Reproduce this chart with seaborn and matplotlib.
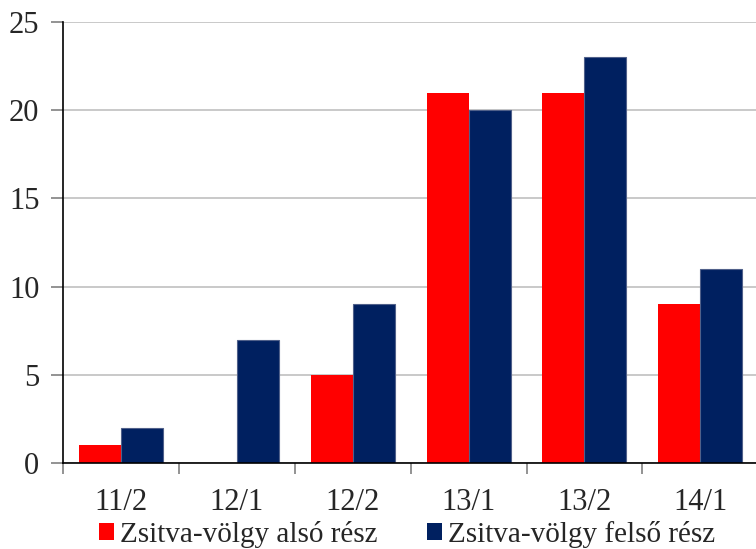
import matplotlib
matplotlib.use("Agg")
import matplotlib.pyplot as plt
import seaborn as sns
import pandas as pd
from matplotlib.patches import Patch

categories = ["11/2", "12/1", "12/2", "13/1", "13/2", "14/1"]
series_names = ["Zsitva-völgy alsó rész", "Zsitva-völgy felső rész"]
also = [1, 0, 5, 21, 21, 9]
felso = [2, 7, 9, 20, 23, 11]
colors = ["#FF0000", "#002060"]

df = pd.DataFrame({
    "cat": categories * 2,
    "val": also + felso,
    "series": [series_names[0]] * len(categories) + [series_names[1]] * len(categories),
})

sns.set_theme(style="white")
plt.rcParams["font.family"] = ["Liberation Serif", "DejaVu Serif"]

fig = plt.figure(figsize=(7.56, 5.49), dpi=100)
ax = fig.add_axes([63 / 756, 1 - 463 / 549, 1 - 63 / 756 + 0.003, (463 - 22) / 549])

sns.barplot(data=df, x="cat", y="val", hue="series", palette=colors,
            width=0.725, ax=ax, legend=False, saturation=1, edgecolor="none")
for p in ax.patches:
    fc = p.get_facecolor()
    if fc[2] > 0.3:
        p.set_edgecolor("#50608a")
        p.set_linewidth(0.8)

ax.set_ylim(0, 25)
ax.set_xlim(-0.5, len(categories) - 0.5)
ax.set_yticks([0, 5, 10, 15, 20, 25])
ax.yaxis.grid(True, color="#c0c0c0", linewidth=1.2)
ax.set_axisbelow(True)
ax.set_xlabel("")
ax.set_ylabel("")

for s in ["top", "right"]:
    ax.spines[s].set_visible(False)
ax.spines["left"].set_color("black")
ax.spines["bottom"].set_color("black")
ax.spines["left"].set_linewidth(1.2)
ax.spines["bottom"].set_linewidth(1.2)

ax.tick_params(axis="y", which="major", direction="out", length=9, width=1.2,
               color="#808080", labelsize=22, pad=8, left=True)
ax.tick_params(axis="x", which="major", length=0, labelsize=22, pad=18)
ax.set_xticks(range(len(categories)))
ax.set_xticklabels(categories)
ax.set_xticks([i - 0.5 for i in range(len(categories) + 1)], minor=True)
ax.tick_params(axis="x", which="minor", direction="out", length=8, width=1.2,
               color="#808080", bottom=True)

handles = [Patch(facecolor=colors[0], edgecolor="none"),
           Patch(facecolor=colors[1], edgecolor="none")]
fig.legend(handles, series_names, loc="center", bbox_to_anchor=(407 / 756, 1 - 534 / 549),
           ncol=2, frameon=False, fontsize=21, handlelength=0.52, handleheight=0.52,
           handletextpad=0.2, columnspacing=1.7, borderaxespad=0, borderpad=0)

fig.savefig("out.png", dpi=100)
